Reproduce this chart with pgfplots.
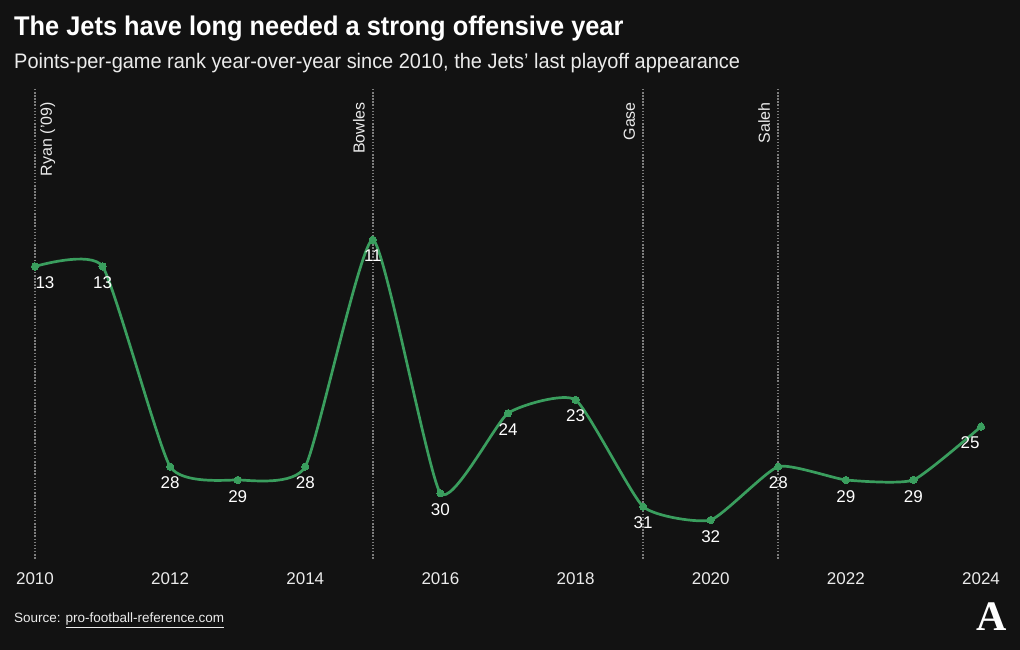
\documentclass[border=0pt]{standalone}
\usepackage{pgfplots}
\pgfplotsset{compat=1.18}
\usepackage{pgfplotstable}
\usepackage{fontspec}
\setmainfont{Liberation Sans}
\newfontfamily\titlefont[FakeStretch=0.94]{Liberation Sans}
\newfontfamily\subfont[FakeStretch=0.95]{Liberation Sans}
\newfontfamily\logofont{Liberation Serif}
\definecolor{bg}{RGB}{18,18,18}
\definecolor{jet}{RGB}{58,158,94}
\definecolor{txt}{RGB}{235,235,235}
\definecolor{vline}{RGB}{125,125,125}

\pgfplotstableread{
year rank
2010 13
2011 13
2012 28
2013 29
2014 28
2015 11
2016 30
2017 24
2018 23
2019 31
2020 32
2021 28
2022 29
2023 29
2024 25
}\ranks

\begin{document}
\begin{tikzpicture}[x=1pt,y=1pt,
  cl/.style={rotate=90, inner sep=3pt, text=txt, font=\fontsize{16}{19}\selectfont}]
\fill[bg] (0,0) rectangle (1020,650);
\node[anchor=base west, inner sep=0, text=white] at (14,614)
  {\titlefont\bfseries\fontsize{27}{30}\selectfont The Jets have long needed a strong offensive year};
\node[anchor=base west, inner sep=0, text=txt] at (14,581)
  {\subfont\fontsize{21}{24}\selectfont Points-per-game rank year-over-year since 2010, the Jets’ last playoff appearance};
\node[anchor=base west, inner sep=0, text=txt] at (14,27)
  {\fontsize{13.5}{15}\selectfont Source: \underline{pro-football-reference.com}};
\node[text=white, inner sep=0] at (992,33) {\logofont\bfseries\fontsize{42}{42}\selectfont A};

\begin{axis}[
  at={(35pt,90pt)}, anchor=south west,
  scale only axis, width=946pt, height=467pt,
  xmin=2010, xmax=2024, ymin=0, ymax=35, y dir=reverse,
  axis line style={draw=none},
  ytick=\empty,
  xtick={2010,2012,...,2024},
  major tick length=0pt,
  xticklabel style={font=\fontsize{17}{20}\selectfont, text=txt, yshift=-9pt},
  /pgf/number format/1000 sep={},
  /pgf/number format/assume math mode=true,
  clip=false,
  lbl/.style={draw=none, mark=none, nodes near coords, point meta=explicit,
    every node near coord/.append style={anchor=north, text=white, font=\fontsize{17}{20}\selectfont, inner sep=1pt, yshift=-9pt}},
  vl/.style={vline, line width=1.9pt, dash pattern=on 1.5pt off 1.6pt},
]
% coach lines
\addplot[vl] coordinates {(2010,-0.3) (2010,35)};
\addplot[vl] coordinates {(2015,-0.3) (2015,35)};
\addplot[vl] coordinates {(2019,-0.3) (2019,35)};
\addplot[vl] coordinates {(2021,-0.3) (2021,35)};
\node[cl, anchor=north east, yshift=-2pt] at (axis cs:2010,0.45) {Ryan ('09)};
\node[cl, anchor=south east, yshift=5pt] at (axis cs:2015,0.45) {Bowles};
\node[cl, anchor=south east, yshift=5pt] at (axis cs:2019,0.45) {Gase};
\node[cl, anchor=south east, yshift=5pt] at (axis cs:2021,0.45) {Saleh};
% line
\addplot[jet, line width=2.7pt, smooth, tension=0.3, mark=*, mark size=3.6pt, mark options={fill=jet, draw=jet, line width=0pt}] table[x=year, y=rank] {\ranks};
% labels
\addplot[lbl, skip coords between index={0}{1}, skip coords between index={14}{15}] table[x=year, y=rank, meta=rank] {\ranks};
\addplot[lbl, skip coords between index={1}{15}, every node near coord/.append style={xshift=10pt}] table[x=year, y=rank, meta=rank] {\ranks};
\addplot[lbl, skip coords between index={0}{14}, every node near coord/.append style={xshift=-11pt}] table[x=year, y=rank, meta=rank] {\ranks};
\end{axis}
\end{tikzpicture}
\end{document}
